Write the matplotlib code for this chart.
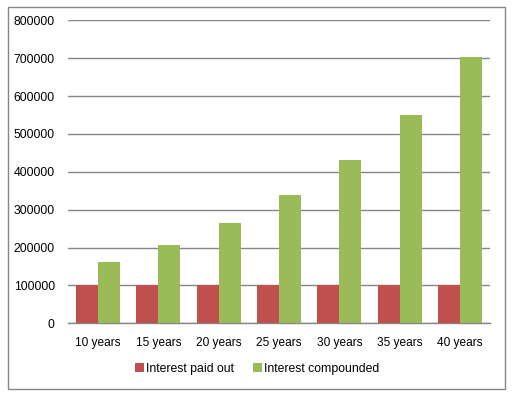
import matplotlib
matplotlib.use("Agg")
import matplotlib.pyplot as plt
from matplotlib.patches import Rectangle
import numpy as np

categories = ["10 years", "15 years", "20 years", "25 years", "30 years", "35 years", "40 years"]
paid_out = [100000, 100000, 100000, 100000, 100000, 100000, 100000]
compounded = [161000, 206000, 264000, 338000, 431000, 549000, 702000]
series_names = ["Interest paid out", "Interest compounded"]
yticks = [0, 100000, 200000, 300000, 400000, 500000, 600000, 700000, 800000]

plt.rcParams['font.family'] = ['Liberation Sans', 'DejaVu Sans']

W, H = 515, 397
fig = plt.figure(figsize=(W/100, H/100), dpi=100)
fig.patch.set_facecolor('white')

ax = fig.add_axes([68/W, 1-323.3/H, (490-68)/W, (323.3-20.3)/H])
x = np.arange(len(categories))
bw = 22/60.3
red = '#C0504D'
green = '#9BBB59'
ax.bar(x - bw/2, paid_out, bw, color=red, label=series_names[0], zorder=3)
ax.bar(x + bw/2, compounded, bw, color=green, label=series_names[1], zorder=3)

ax.set_xlim(-0.5, len(categories)-0.5)
ax.set_ylim(0, 800000)
ax.set_yticks(yticks)
ax.set_yticklabels([str(v) for v in yticks], fontsize=8.8)
ax.set_xticks(x)
ax.set_xticklabels(categories, fontsize=8.6)
ax.tick_params(axis='both', length=0, colors='black')
ax.tick_params(axis='y', pad=9.5)
ax.tick_params(axis='x', pad=10)
ax.grid(axis='y', color='#868686', linewidth=1, zorder=0)
for s in ['top', 'right', 'left']:
    ax.spines[s].set_visible(False)
ax.spines['bottom'].set_color('#868686')
ax.spines['bottom'].set_linewidth(1)

leg = fig.legend(loc='center', bbox_to_anchor=(257/W, 1-369/H), ncol=2, frameon=False,
                 fontsize=8.8, handlelength=0.7, handleheight=0.7, handletextpad=0.15,
                 columnspacing=1.6)

fig.patches.append(Rectangle((7.5/W, 1-389/H), (505-7.5)/W, (389-6.5)/H,
                             transform=fig.transFigure, fill=False,
                             edgecolor='#868686', linewidth=1))

fig.savefig('out.png', dpi=100)
